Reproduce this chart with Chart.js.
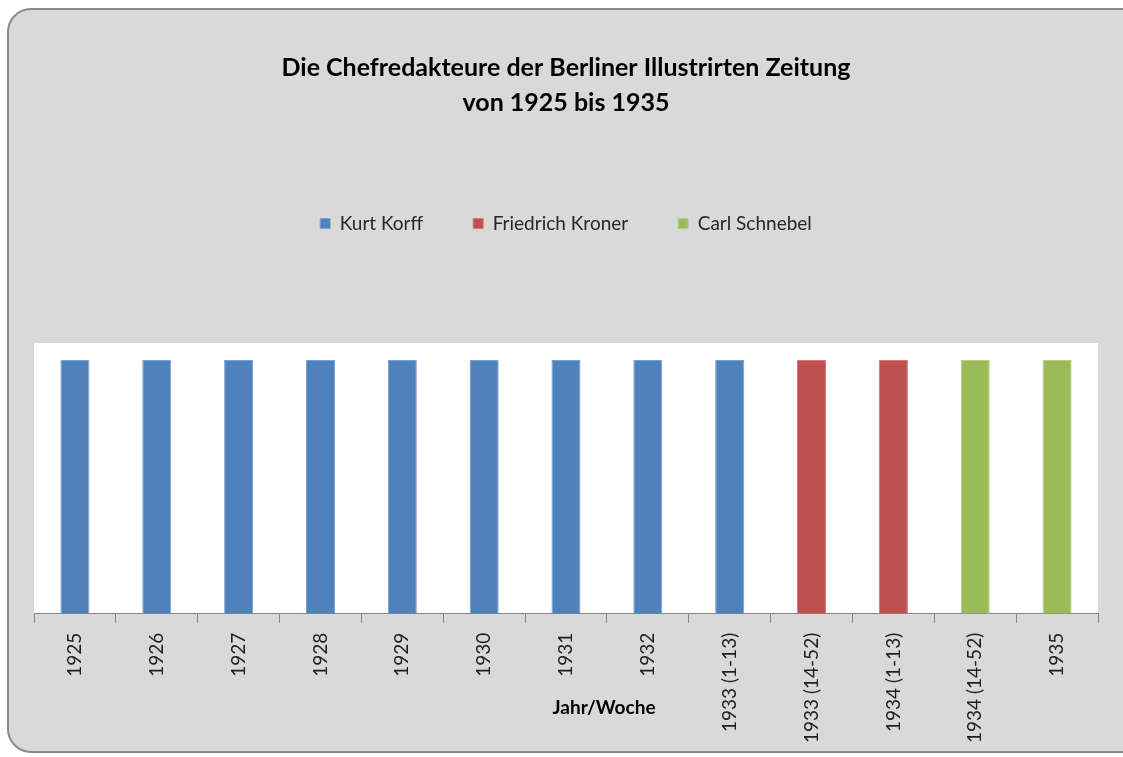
<!DOCTYPE html>
<html>
<head>
<meta charset="utf-8">
<script src="https://cdn.jsdelivr.net/npm/chart.js@4"></script>
<style>
    body { margin: 0; background: #ffffff; overflow: hidden; }
    #frame {
        position: absolute; left: 7px; top: 8px; width: 1140px; height: 745px;
        background: #d9d9d9; border: 2px solid #8a8a8a; border-radius: 24px;
        box-sizing: border-box;
    }
    #wrap { position: absolute; left: 0; top: 0; width: 1123px; height: 757px; }
</style>
</head>
<body>
<div id="frame"></div>
<div id="wrap"><canvas id="chart"></canvas></div>
<script>
const categories = ['1925', '1926', '1927', '1928', '1929', '1930', '1931', '1932',
    '1933 (1-13)', '1933 (14-52)', '1934 (1-13)', '1934 (14-52)', '1935'];
const seriesNames = ['Kurt Korff', 'Friedrich Kroner', 'Carl Schnebel'];
const korffValues = [1, 1, 1, 1, 1, 1, 1, 1, 1, null, null, null, null];
const kronerValues = [null, null, null, null, null, null, null, null, null, 1, 1, null, null];
const schnebelValues = [null, null, null, null, null, null, null, null, null, null, null, 1, 1];
const seriesColors = ['#4f81bd', '#c0504d', '#9bbb59'];
const seriesEdges = ['#7d9fcf', '#d47a78', '#b6cf85'];

const FONT = 'Lato, "Open Sans", sans-serif';

// white plot area + x axis title placed like the original
const plotBackground = {
    id: 'plotBackground',
    beforeDraw(chart) {
        const { ctx, chartArea: a } = chart;
        ctx.save();
        ctx.fillStyle = '#ffffff';
        ctx.fillRect(a.left, a.top, a.right - a.left, a.bottom - a.top);
        ctx.restore();
    },
    afterDraw(chart) {
        const { ctx, chartArea: a } = chart;
        ctx.save();
        ctx.font = 'bold 19px ' + FONT;
        ctx.fillStyle = '#000000';
        ctx.textAlign = 'center';
        ctx.textBaseline = 'middle';
        ctx.fillText('Jahr/Woche', (a.left + a.right) / 2 + 38, a.bottom + 94);
        ctx.restore();
    }
};

const datasets = [korffValues, kronerValues, schnebelValues].map((values, i) => ({
    label: seriesNames[i],
    data: values,
    backgroundColor: seriesColors[i],
    borderColor: seriesEdges[i],
    borderWidth: 1,
    barPercentage: 0.355,
    categoryPercentage: 1
}));

new Chart(document.getElementById('chart'), {
    type: 'bar',
    data: { labels: categories, datasets: datasets },
    options: {
        responsive: true,
        maintainAspectRatio: false,
        animation: false,
        layout: { padding: { left: 34, right: 25, top: 0, bottom: 4 } },
        scales: {
            x: {
                stacked: true,
                grid: { drawOnChartArea: false, tickLength: 9, color: '#868686' },
                border: { color: '#868686', width: 1 },
                ticks: {
                    minRotation: 90, maxRotation: 90, padding: 10,
                    color: '#1f1f1f', font: { family: FONT, size: 19 }
                }
            },
            y: { stacked: true, display: false, min: 0, max: 1.067 }
        },
        plugins: {
            title: {
                display: true,
                text: ['Die Chefredakteure der Berliner Illustrirten Zeitung', 'von 1925 bis 1935'],
                color: '#000000',
                font: { family: FONT, size: 25, weight: 'bold', lineHeight: 1.4 },
                padding: { top: 50, bottom: 44 }
            },
            legend: {
                position: 'top',
                labels: {
                    boxWidth: 10, boxHeight: 10, padding: 50,
                    color: '#262626', font: { family: FONT, size: 19 }
                }
            },
            // empty subtitle used only as spacing between legend and plot
            subtitle: {
                display: true, text: ' ', weight: 500,
                font: { size: 1, lineHeight: 1 },
                padding: { top: 99, bottom: 0 }
            },
            tooltip: { enabled: false }
        }
    },
    plugins: [plotBackground]
});
</script>
</body>
</html>
